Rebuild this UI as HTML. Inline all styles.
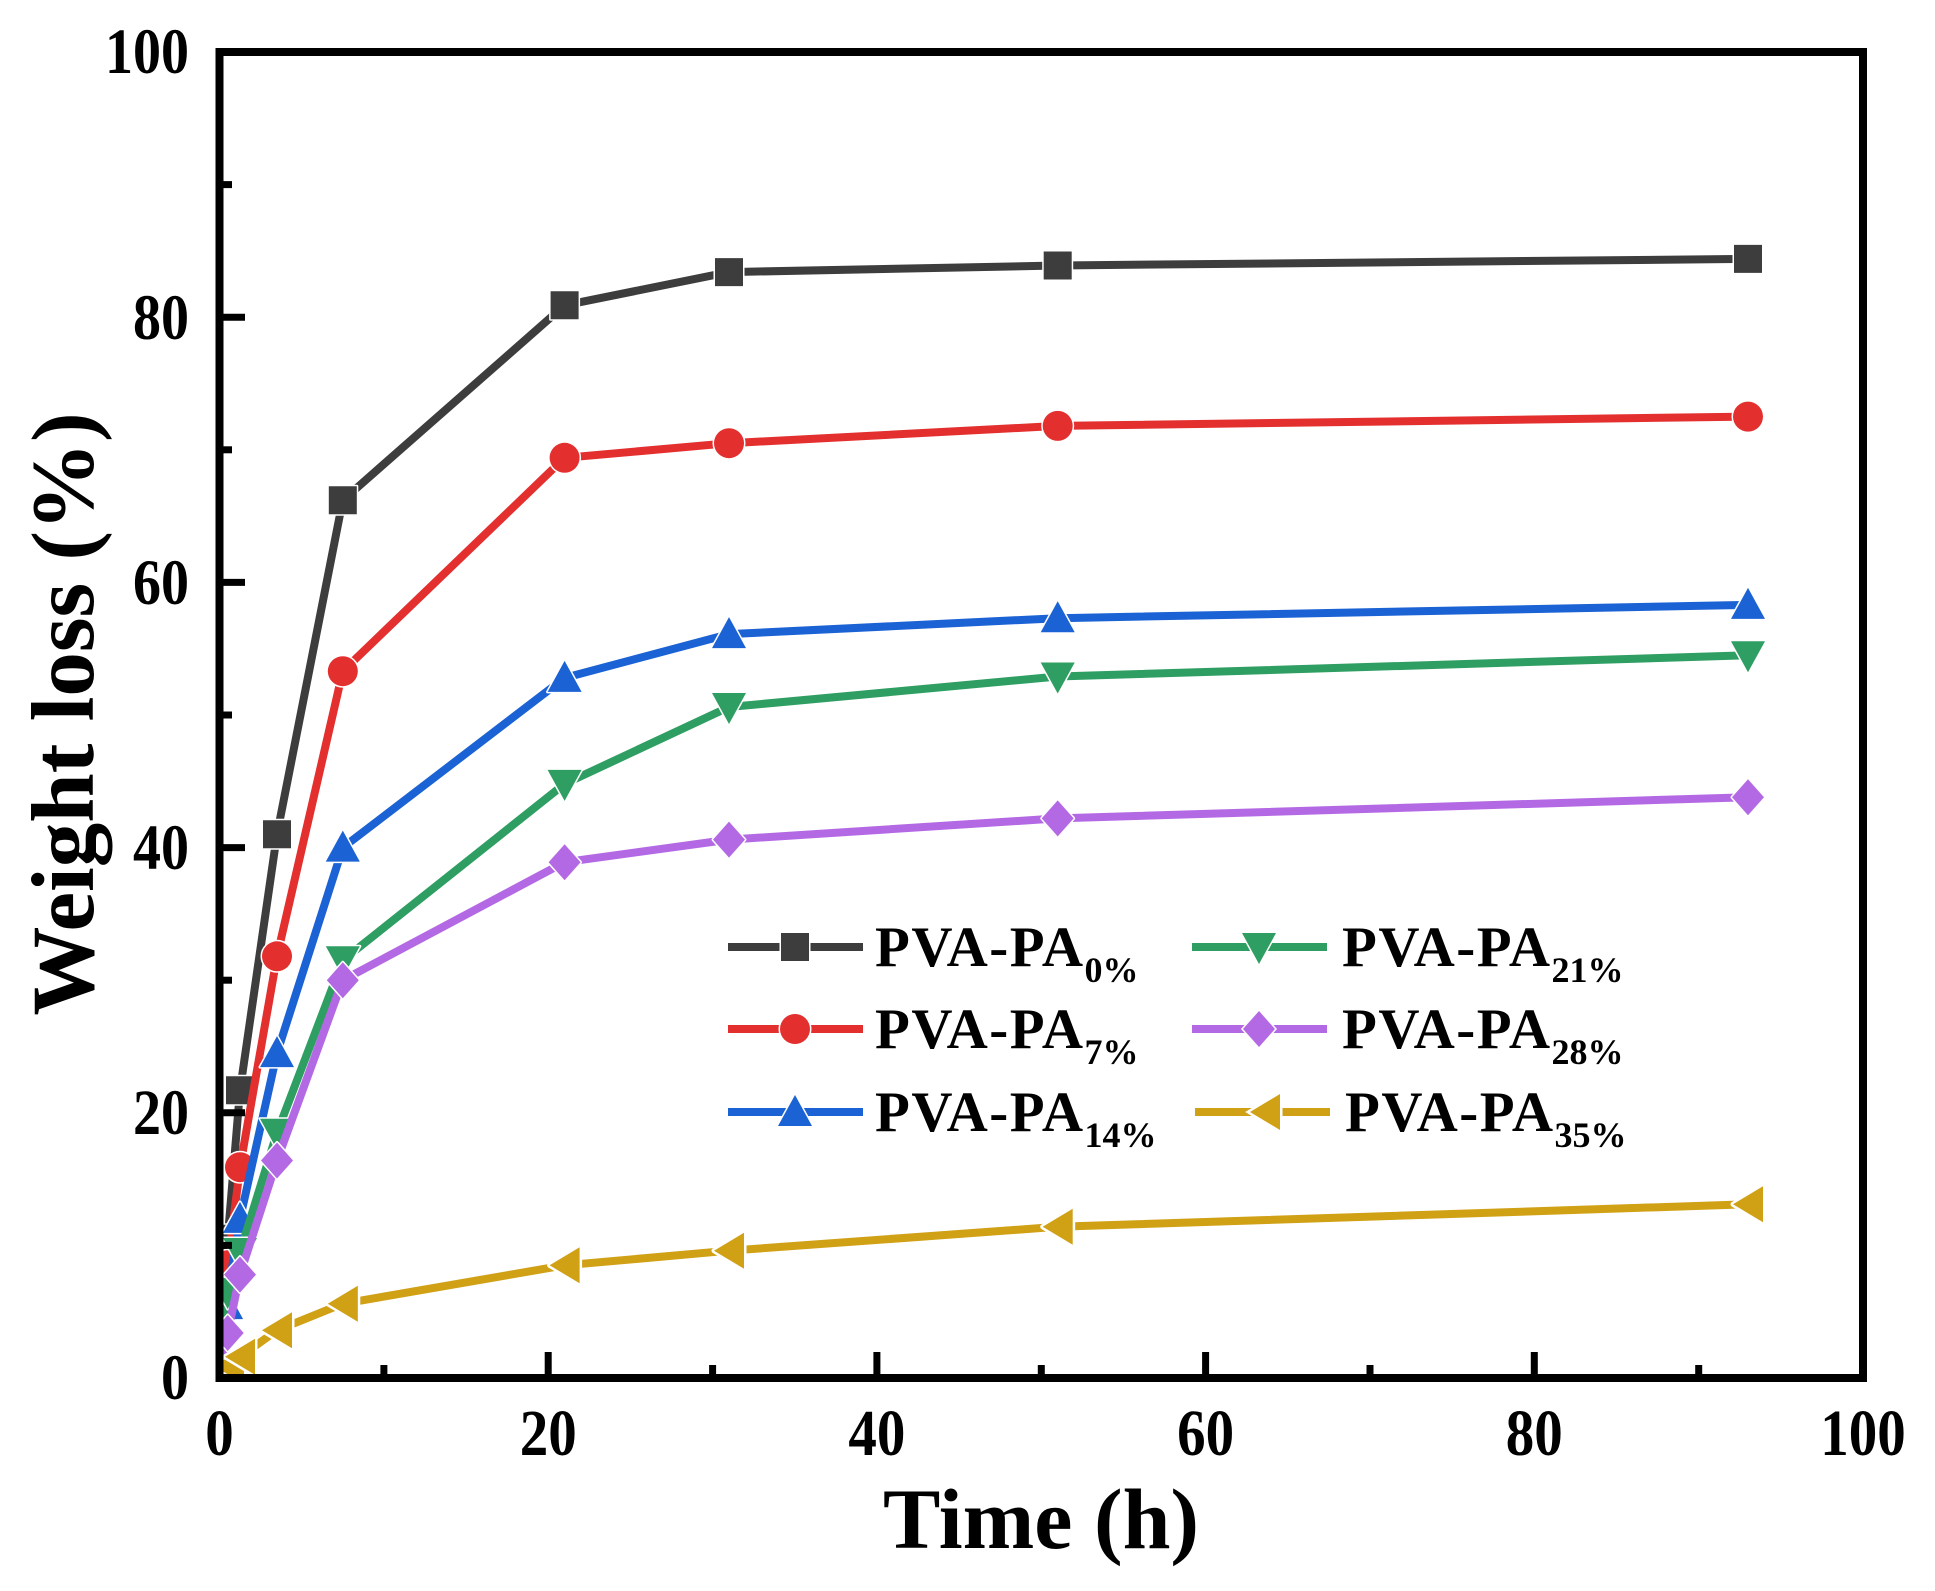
<!DOCTYPE html>
<html>
<head>
<meta charset="utf-8">
<style>
  html,body{margin:0;padding:0;background:#fff;}
  svg{display:block;}
  text{font-family:"Liberation Serif","Times New Roman",serif;font-weight:bold;fill:#000;}
</style>
</head>
<body>
<svg width="1935" height="1591" viewBox="0 0 1935 1591" xmlns="http://www.w3.org/2000/svg">
  <defs>
    <path id="sq" d="M-14,-14h28v28h-28z"/>
    <circle id="ci" r="15"/>
    <path id="tu" d="M0,-17L17,14H-17Z"/>
    <path id="td" d="M0,17L17,-14H-17Z"/>
    <path id="di" d="M0,-18L16,0L0,18L-16,0Z"/>
    <path id="tl" d="M-15,0L15,-18V18Z"/>
    <clipPath id="plot"><rect x="223.5" y="56" width="1635.5" height="1318"/></clipPath>
  </defs>
  <rect width="1935" height="1591" fill="#fff"/>

  <g clip-path="url(#plot)" stroke-linejoin="round">
    <!-- Black -->
    <polyline fill="none" stroke="#3d3d3d" stroke-width="8" points="219.5,1378 227.7,1238.8 240,1090.3 277,834.3 342.8,500.2 564.6,305.3 729,272.1 1057.7,265.5 1748,258.9"/>
    <g fill="#3d3d3d" stroke="#fff" stroke-width="3" paint-order="stroke">
      <use href="#sq" x="219.5" y="1378"/><use href="#sq" x="227.7" y="1238.8"/><use href="#sq" x="240" y="1090.3"/>
      <use href="#sq" x="277" y="834.3"/><use href="#sq" x="342.8" y="500.2"/><use href="#sq" x="564.6" y="305.3"/>
      <use href="#sq" x="729" y="272.1"/><use href="#sq" x="1057.7" y="265.5"/><use href="#sq" x="1748" y="258.9"/>
    </g>
    <!-- Red -->
    <polyline fill="none" stroke="#e3302f" stroke-width="8" points="219.5,1378 227.7,1265.3 240,1167.2 277,956.3 342.8,671.2 564.6,457.8 729,443.2 1057.7,425.9 1748,416.6"/>
    <g fill="#e3302f" stroke="#fff" stroke-width="3" paint-order="stroke">
      <use href="#ci" x="219.5" y="1378"/><use href="#ci" x="227.7" y="1265.3"/><use href="#ci" x="240" y="1167.2"/>
      <use href="#ci" x="277" y="956.3"/><use href="#ci" x="342.8" y="671.2"/><use href="#ci" x="564.6" y="457.8"/>
      <use href="#ci" x="729" y="443.2"/><use href="#ci" x="1057.7" y="425.9"/><use href="#ci" x="1748" y="416.6"/>
    </g>
    <!-- Blue -->
    <polyline fill="none" stroke="#1b62d4" stroke-width="8" points="219.5,1378 226.1,1305.1 240,1218.9 277,1053.1 342.8,847.6 564.6,677.9 729,634.1 1057.7,618.2 1748,604.9"/>
    <g fill="#1b62d4" stroke="#fff" stroke-width="3" paint-order="stroke">
      <use href="#tu" x="219.5" y="1378"/><use href="#tu" x="226.1" y="1305.1"/><use href="#tu" x="240" y="1218.9"/>
      <use href="#tu" x="277" y="1053.1"/><use href="#tu" x="342.8" y="847.6"/><use href="#tu" x="564.6" y="677.9"/>
      <use href="#tu" x="729" y="634.1"/><use href="#tu" x="1057.7" y="618.2"/><use href="#tu" x="1748" y="604.9"/>
    </g>
    <!-- Green -->
    <polyline fill="none" stroke="#2e9e62" stroke-width="8" points="219.5,1378 227.7,1292 240,1252 277,1132.7 342.8,960.3 564.6,783.9 729,707 1057.7,676.5 1748,655.3"/>
    <g fill="#2e9e62" stroke="#fff" stroke-width="3" paint-order="stroke">
      <use href="#td" x="219.5" y="1378"/><use href="#td" x="227.7" y="1292"/><use href="#td" x="240" y="1252"/>
      <use href="#td" x="277" y="1132.7"/><use href="#td" x="342.8" y="960.3"/><use href="#td" x="564.6" y="783.9"/>
      <use href="#td" x="729" y="707"/><use href="#td" x="1057.7" y="676.5"/><use href="#td" x="1748" y="655.3"/>
    </g>
    <!-- Purple -->
    <polyline fill="none" stroke="#b469e4" stroke-width="8" points="219.5,1378 227.7,1333 240,1274.6 277,1160.5 342.8,980.2 564.6,862.2 729,839.6 1057.7,818.4 1748,797.2"/>
    <g fill="#b469e4" stroke="#fff" stroke-width="3" paint-order="stroke">
      <use href="#di" x="219.5" y="1378"/><use href="#di" x="227.7" y="1333"/><use href="#di" x="240" y="1274.6"/>
      <use href="#di" x="277" y="1160.5"/><use href="#di" x="342.8" y="980.2"/><use href="#di" x="564.6" y="862.2"/>
      <use href="#di" x="729" y="839.6"/><use href="#di" x="1057.7" y="818.4"/><use href="#di" x="1748" y="797.2"/>
    </g>
    <!-- Gold -->
    <polyline fill="none" stroke="#d0a015" stroke-width="8" points="219.5,1378 229,1366 240,1356.8 277,1330.3 342.8,1303.7 564.6,1265.3 729,1250.7 1057.7,1226.8 1748,1204.3"/>
    <g fill="#d0a015" stroke="#fff" stroke-width="5" paint-order="stroke">
      <use href="#tl" x="219.5" y="1378"/><use href="#tl" x="229" y="1366"/><use href="#tl" x="240" y="1356.8"/>
      <use href="#tl" x="277" y="1330.3"/><use href="#tl" x="342.8" y="1303.7"/><use href="#tl" x="564.6" y="1265.3"/>
      <use href="#tl" x="729" y="1250.7"/><use href="#tl" x="1057.7" y="1226.8"/><use href="#tl" x="1748" y="1204.3"/>
    </g>
  </g>

  <!-- Frame -->
  <rect x="219.5" y="52" width="1643.5" height="1326" fill="none" stroke="#000" stroke-width="8"/>

  <!-- Ticks -->
  <g stroke="#000" stroke-width="7">
    <line x1="219.5" y1="1112.8" x2="245" y2="1112.8"/>
    <line x1="219.5" y1="847.6" x2="245" y2="847.6"/>
    <line x1="219.5" y1="582.4" x2="245" y2="582.4"/>
    <line x1="219.5" y1="317.2" x2="245" y2="317.2"/>
    <line x1="219.5" y1="1245.4" x2="232" y2="1245.4"/>
    <line x1="219.5" y1="980.2" x2="232" y2="980.2"/>
    <line x1="219.5" y1="715" x2="232" y2="715"/>
    <line x1="219.5" y1="449.8" x2="232" y2="449.8"/>
    <line x1="219.5" y1="184.6" x2="232" y2="184.6"/>

    <line x1="548.2" y1="1378" x2="548.2" y2="1352"/>
    <line x1="876.9" y1="1378" x2="876.9" y2="1352"/>
    <line x1="1205.6" y1="1378" x2="1205.6" y2="1352"/>
    <line x1="1534.3" y1="1378" x2="1534.3" y2="1352"/>
    <line x1="383.9" y1="1378" x2="383.9" y2="1365"/>
    <line x1="712.6" y1="1378" x2="712.6" y2="1365"/>
    <line x1="1041.3" y1="1378" x2="1041.3" y2="1365"/>
    <line x1="1370" y1="1378" x2="1370" y2="1365"/>
    <line x1="1698.7" y1="1378" x2="1698.7" y2="1365"/>
  </g>

  <!-- Y tick labels -->
  <g font-size="56" text-anchor="end">
    <text transform="translate(189,1399) scale(1,1.16)">0</text>
    <text transform="translate(189,1134) scale(1,1.16)">20</text>
    <text transform="translate(189,869) scale(1,1.16)">40</text>
    <text transform="translate(189,604) scale(1,1.16)">60</text>
    <text transform="translate(189,339) scale(1,1.16)">80</text>
    <text transform="translate(189,73) scale(1,1.16)">100</text>
  </g>
  <!-- X tick labels -->
  <g font-size="57" text-anchor="middle">
    <text transform="translate(219.5,1455) scale(1,1.15)">0</text>
    <text transform="translate(548.2,1455) scale(1,1.15)">20</text>
    <text transform="translate(876.9,1455) scale(1,1.15)">40</text>
    <text transform="translate(1205.6,1455) scale(1,1.15)">60</text>
    <text transform="translate(1534.3,1455) scale(1,1.15)">80</text>
    <text transform="translate(1863,1455) scale(1,1.15)">100</text>
  </g>

  <!-- Axis titles -->
  <text x="1041" y="1548" font-size="86" text-anchor="middle">Time (h)</text>
  <text transform="translate(93,714) rotate(-90)" font-size="89" text-anchor="middle">Weight loss (%)</text>

  <!-- Legend -->
  <g stroke-width="8">
    <line x1="728" y1="947" x2="863" y2="947" stroke="#3d3d3d"/>
    <line x1="728" y1="1029" x2="863" y2="1029" stroke="#e3302f"/>
    <line x1="728" y1="1112" x2="863" y2="1112" stroke="#1b62d4"/>
    <line x1="1192" y1="947" x2="1327" y2="947" stroke="#2e9e62"/>
    <line x1="1192" y1="1029" x2="1327" y2="1029" stroke="#b469e4"/>
    <line x1="1195" y1="1112" x2="1330" y2="1112" stroke="#d0a015"/>
  </g>
  <g stroke="#fff" stroke-width="3" paint-order="stroke">
    <use href="#sq" x="795" y="947" fill="#3d3d3d"/>
    <use href="#ci" x="795" y="1029" fill="#e3302f"/>
    <use href="#tu" x="795" y="1112" fill="#1b62d4"/>
    <use href="#td" x="1259" y="947" fill="#2e9e62"/>
    <use href="#di" x="1259" y="1029" fill="#b469e4"/>
    <use href="#tl" x="1265" y="1112" fill="#d0a015" stroke-width="5"/>
  </g>
  <g font-size="57" letter-spacing="1.5">
    <text x="875" y="966">PVA-PA<tspan font-size="36" dy="16" letter-spacing="0">0%</tspan></text>
    <text x="875" y="1048">PVA-PA<tspan font-size="36" dy="16" letter-spacing="0">7%</tspan></text>
    <text x="875" y="1131">PVA-PA<tspan font-size="36" dy="16" letter-spacing="0">14%</tspan></text>
    <text x="1342" y="966">PVA-PA<tspan font-size="36" dy="16" letter-spacing="0">21%</tspan></text>
    <text x="1342" y="1048">PVA-PA<tspan font-size="36" dy="16" letter-spacing="0">28%</tspan></text>
    <text x="1345" y="1131">PVA-PA<tspan font-size="36" dy="16" letter-spacing="0">35%</tspan></text>
  </g>
</svg>
</body>
</html>
